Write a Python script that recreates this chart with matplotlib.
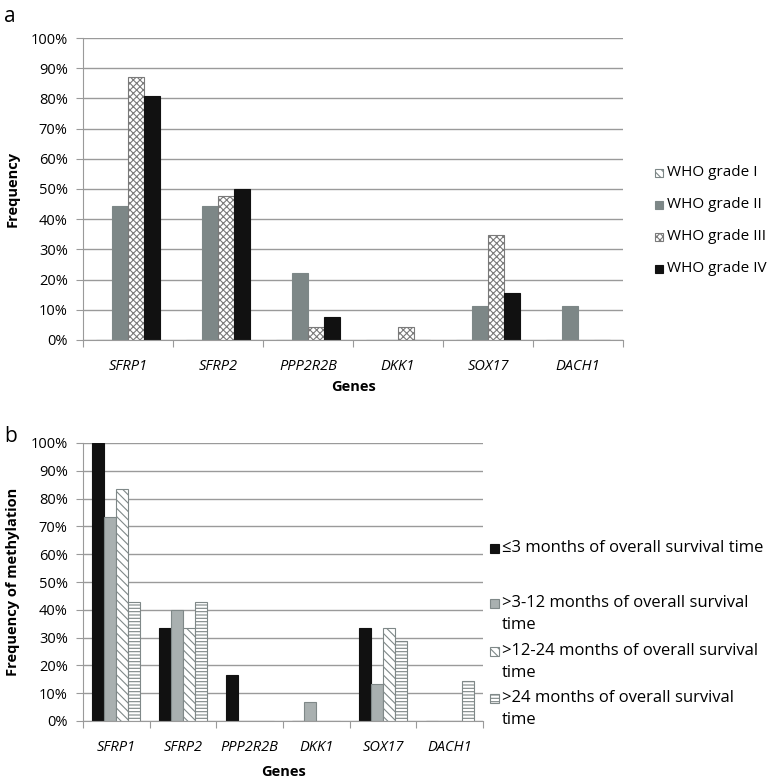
import matplotlib
matplotlib.use('Agg')
import matplotlib.pyplot as plt
from matplotlib.patches import Rectangle
from matplotlib.ticker import PercentFormatter, FixedLocator

plt.rcParams['font.family'] = ['Open Sans', 'DejaVu Sans']
plt.rcParams['hatch.linewidth'] = 0.8

# data
genes = ['SFRP1', 'SFRP2', 'PPP2R2B', 'DKK1', 'SOX17', 'DACH1']

who_labels = ['WHO grade I', 'WHO grade II', 'WHO grade III', 'WHO grade IV']
who_grade_1 = [0, 0, 0, 0, 0, 0]
who_grade_2 = [44.4, 44.4, 22.2, 0, 11.1, 11.1]
who_grade_3 = [87.0, 47.8, 4.3, 4.3, 34.8, 0]
who_grade_4 = [80.8, 50.0, 7.7, 0, 15.4, 0]

surv_labels = ['≤3 months of overall survival time',
               '>3-12 months of overall survival\ntime',
               '>12-24 months of overall survival\ntime',
               '>24 months of overall survival\ntime']
surv_3 = [100, 33.3, 16.7, 0, 33.3, 0]
surv_3_12 = [73.3, 40.0, 0, 6.7, 13.3, 0]
surv_12_24 = [83.3, 33.3, 0, 0, 33.3, 0]
surv_24 = [42.9, 42.9, 0, 0, 28.6, 14.3]

grid_c = '#9a9a9a'
fs = 10.5

# style per series: facecolor, edgecolor, hatch
who_styles = [('white', '#7d8787', '\\\\\\\\'),
              ('#7d8787', '#7d8787', None),
              ('white', '#7a7a7a', 'xxxxx'),
              ('#111111', '#111111', None)]
surv_styles = [('#111111', '#111111', None),
               ('#a9b0b0', '#7f8888', None),
               ('white', '#7f8888', '\\\\\\\\'),
               ('white', '#7f8888', '-----')]

fig = plt.figure(figsize=(7.73, 7.82), dpi=100)
W, H = 773, 782


def setup(ax, ylabel, ylab_x, genes_y):
    ax.set_xlim(-0.5, len(genes) - 0.5)
    ax.set_ylim(0, 100)
    ax.yaxis.set_major_locator(FixedLocator(range(0, 101, 10)))
    ax.yaxis.set_major_formatter(PercentFormatter(decimals=0))
    ax.grid(axis='y', color=grid_c, linewidth=1)
    ax.set_axisbelow(True)
    for s in ['top', 'right']:
        ax.spines[s].set_visible(False)
    for s in ['left', 'bottom']:
        ax.spines[s].set_color(grid_c)
    ax.tick_params(axis='y', length=5, color=grid_c, labelsize=fs, pad=6)
    ax.set_xticks([i - 0.5 for i in range(len(genes) + 1)])
    ax.set_xticklabels([])
    ax.set_xticks(range(len(genes)), minor=True)
    ax.set_xticklabels(genes, minor=True, style='italic', fontsize=fs)
    ax.tick_params(axis='x', which='major', length=5, color=grid_c)
    ax.tick_params(axis='x', which='minor', length=0, pad=14)
    ax.set_ylabel(ylabel, fontweight='bold', fontsize=fs)
    ax.yaxis.set_label_coords(ylab_x, 0.5)
    ax.set_xlabel('Genes', fontweight='bold', fontsize=fs)
    ax.xaxis.set_label_coords(0.5, genes_y)


def bars(ax, series, styles, width):
    n = len(series)
    for i, (vals, (fc, ec, h)) in enumerate(zip(series, styles)):
        xs = [k + (i - (n - 1) / 2) * width for k in range(len(vals))]
        ax.bar(xs, vals, width=width, color=fc, edgecolor=ec, hatch=h,
               linewidth=0.8, zorder=2)


def key(x, y, size, style):
    fc, ec, h = style
    fig.patches.append(Rectangle((x / W, 1 - (y + size / 2) / H), size / W, size / H,
                                 transform=fig.transFigure, facecolor=fc,
                                 edgecolor=ec, hatch=h, linewidth=0.8))


# panel a
ax1 = fig.add_axes([83 / W, 1 - 340 / H, 540 / W, 302 / H])
bars(ax1, [who_grade_1, who_grade_2, who_grade_3, who_grade_4], who_styles, 0.178)
setup(ax1, 'Frequency', -0.117, -0.132)
for i, lab in enumerate(who_labels):
    y = 173 + i * 32
    key(655, y, 8, who_styles[i])
    fig.text(667 / W, 1 - y / H, lab, fontsize=fs + 0.5, va='center', ha='left')

# panel b
ax2 = fig.add_axes([83 / W, 1 - 721 / H, 400 / W, 278 / H])
bars(ax2, [surv_3, surv_3_12, surv_12_24, surv_24], surv_styles, 0.18)
setup(ax2, 'Frequency of methylation', -0.1575, -0.16)
for i, lab in enumerate(surv_labels):
    y = 548 + [0, 55, 103, 150][i]
    key(490, y, 9, surv_styles[i])
    fig.text(502 / W, 1 - (y - 8) / H, lab, fontsize=12, va='top', ha='left',
             linespacing=1.5)

fig.text(4 / W, 1 - 22 / H, 'a', fontsize=15)
fig.text(4 / W, 1 - 442 / H, 'b', fontsize=15)

fig.savefig('out.png', dpi=100)
